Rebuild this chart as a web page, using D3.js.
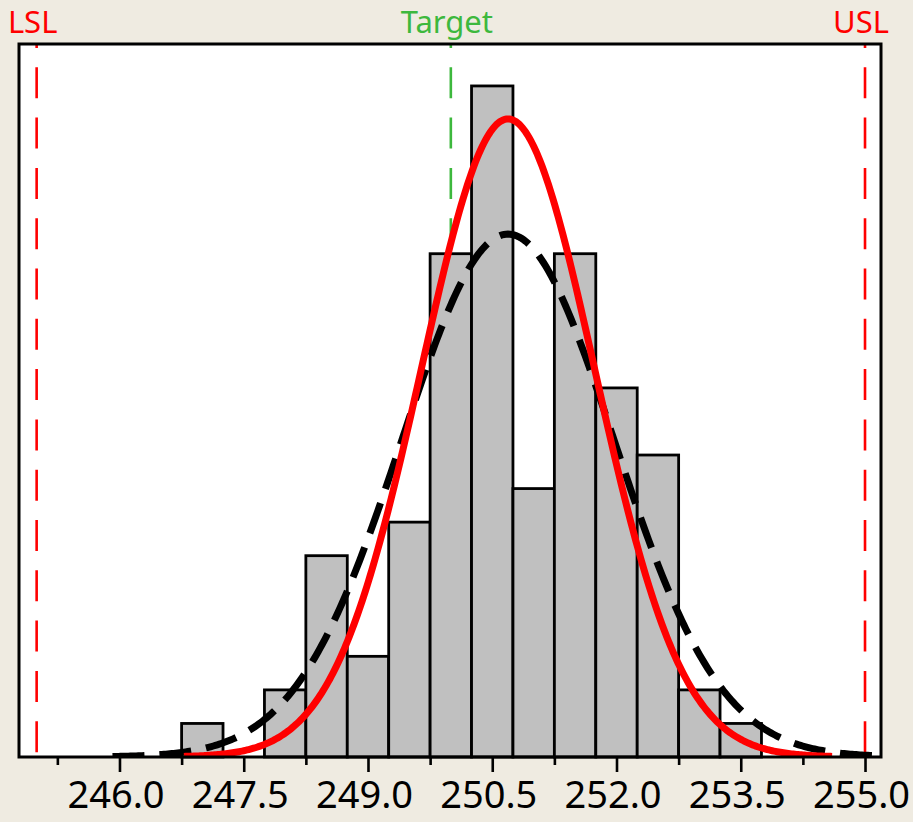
<!DOCTYPE html>
<html>
<head>
<meta charset="utf-8">
<script src="https://cdn.jsdelivr.net/npm/d3@7"></script>
<style>
  html, body { margin: 0; padding: 0; background: #efebe1; }
  svg { display: block; }
  text { font-family: "Noto Sans", "DejaVu Sans", sans-serif; }
</style>
</head>
<body>
<svg id="chart" width="913" height="822"></svg>
<script>
// Histogram of measurements (bin midpoints, bin width 0.5)
const binMids = [247.0, 247.5, 248.0, 248.5, 249.0, 249.5, 250.0, 250.5, 251.0, 251.5, 252.0, 252.5, 253.0, 253.5];
const counts  = [1, 0, 2, 6, 3, 7, 15, 20, 8, 15, 11, 9, 2, 1];
const binWidth = 0.5;

// Process summary
const processMean = 250.69;
const stdWithin = 1.049;
const stdOverall = 1.28;

// Specification limits
const specLines = [
  { label: "LSL", value: 245.0, color: "#ff0000" },
  { label: "Target", value: 250.0, color: "#3db83d" },
  { label: "USL", value: 255.0, color: "#ff0000" }
];

// Axis ticks
const majorTicks = [246.0, 247.5, 249.0, 250.5, 252.0, 253.5, 255.0];
const minorTicks = [245.25, 246.75, 248.25, 249.75, 251.25, 252.75, 254.25];
const xDomain = [244.787, 255.193];
const yDomain = [0, 21.25];

const svg = d3.select("#chart");
const W = 913, H = 822;
const margin = { top: 44, right: 32, bottom: 65, left: 19 };
const x = d3.scaleLinear().domain(xDomain).range([margin.left, W - margin.right]);
const y = d3.scaleLinear().domain(yDomain).range([H - margin.bottom, margin.top]);

svg.append("defs").append("clipPath").attr("id", "plotClip")
  .append("rect")
  .attr("x", margin.left).attr("y", margin.top)
  .attr("width", W - margin.left - margin.right)
  .attr("height", H - margin.top - margin.bottom);

// plot background
svg.append("rect")
  .attr("x", margin.left).attr("y", margin.top)
  .attr("width", W - margin.left - margin.right)
  .attr("height", H - margin.top - margin.bottom)
  .attr("fill", "#ffffff");

// spec lines
svg.append("g").selectAll("line").data(specLines).join("line")
  .attr("x1", d => x(d.value)).attr("x2", d => x(d.value))
  .attr("y1", margin.top).attr("y2", H - margin.bottom)
  .attr("stroke", d => d.color)
  .attr("stroke-width", 2.6)
  .attr("stroke-dasharray", "31,19.3")
  .attr("stroke-dashoffset", 27);

svg.append("g").selectAll("text").data(specLines).join("text")
  .attr("x", d => x(d.value) - 4)
  .attr("y", 33)
  .attr("text-anchor", "middle")
  .attr("font-size", 31)
  .attr("fill", d => d.color)
  .text(d => d.label);

// histogram bars
svg.append("g").selectAll("rect").data(binMids.map((m, i) => ({ m, c: counts[i] })).filter(d => d.c > 0))
  .join("rect")
  .attr("x", d => x(d.m - binWidth / 2))
  .attr("width", d => x(d.m + binWidth / 2) - x(d.m - binWidth / 2))
  .attr("y", d => y(d.c))
  .attr("height", d => y(0) - y(d.c))
  .attr("fill", "#c0c0c0")
  .attr("stroke", "#000")
  .attr("stroke-width", 2.8);

// fitted normal curves, scaled to the histogram counts
const total = d3.sum(counts);
function normalCurve(mu, sd) {
  const lo = mu - 3.73 * sd, hi = mu + 3.73 * sd;
  return d3.range(0, 401).map(i => {
    const v = lo + (hi - lo) * i / 400;
    const z = (v - mu) / sd;
    return [v, total * binWidth * Math.exp(-0.5 * z * z) / (sd * Math.sqrt(2 * Math.PI))];
  });
}
const line = d3.line().x(d => x(d[0])).y(d => y(d[1])).curve(d3.curveLinear);
const curves = svg.append("g").attr("clip-path", "url(#plotClip)");

curves.append("path")
  .datum(normalCurve(processMean, stdOverall))
  .attr("d", line)
  .attr("fill", "none")
  .attr("stroke", "#000")
  .attr("stroke-width", 7)
  .attr("stroke-dasharray", "32,15");

curves.append("path")
  .datum(normalCurve(processMean, stdWithin))
  .attr("d", line)
  .attr("fill", "none")
  .attr("stroke", "#ff0000")
  .attr("stroke-width", 7);

// frame
svg.append("rect")
  .attr("x", margin.left).attr("y", margin.top)
  .attr("width", W - margin.left - margin.right)
  .attr("height", H - margin.top - margin.bottom)
  .attr("fill", "none")
  .attr("stroke", "#000")
  .attr("stroke-width", 3);

// x axis: major ticks with labels, minor ticks between
const axisY = H - margin.bottom;
const majorAxis = d3.axisBottom(x).tickValues(majorTicks).tickSize(15).tickSizeOuter(0)
  .tickFormat(d3.format(".1f"));
const gMajor = svg.append("g").attr("transform", `translate(0,${axisY})`).call(majorAxis);
gMajor.select(".domain").remove();
gMajor.selectAll(".tick line").attr("stroke", "#000").attr("stroke-width", 2.6);
gMajor.selectAll(".tick text")
  .attr("font-size", 38)
  .attr("font-family", "'Noto Sans', 'DejaVu Sans', sans-serif")
  .attr("fill", "#000")
  .attr("dx", -4)
  .attr("y", 24)
  .attr("dy", "0.71em");

const minorAxis = d3.axisBottom(x).tickValues(minorTicks).tickSize(8).tickSizeOuter(0).tickFormat("");
const gMinor = svg.append("g").attr("transform", `translate(0,${axisY})`).call(minorAxis);
gMinor.select(".domain").remove();
gMinor.selectAll(".tick line").attr("stroke", "#000").attr("stroke-width", 2.6);
</script>
</body>
</html>
